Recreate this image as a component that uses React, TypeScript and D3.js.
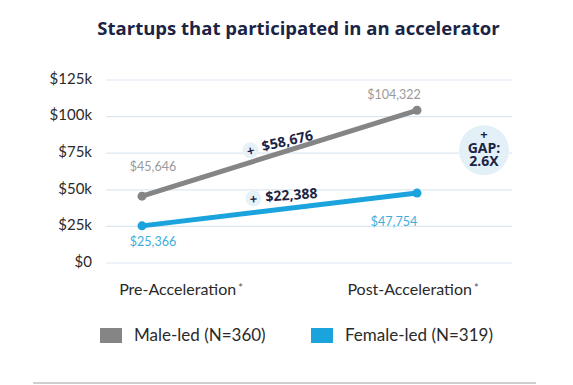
/** Startups that participated in an accelerator — pre/post funding slope chart. */

import * as d3 from "d3";

const periods = ["Pre-Acceleration", "Post-Acceleration"];
const maleValues = [45646, 104322];
const femaleValues = [25366, 47754];
const maleLabels = ["$45,646", "$104,322"];
const femaleLabels = ["$25,366", "$47,754"];
const yTickValues = [0, 25000, 50000, 75000, 100000, 125000];
const yTickLabels = ["$0", "$25k", "$50k", "$75k", "$100k", "$125k"];
const gainLabels = ["$58,676", "$22,388"];
const gapLines = ["+", "GAP:", "2.6X"];
const legendLabels = ["Male-led (N=360)", "Female-led (N=319)"];

const W = 573;
const H = 385;
const NAVY = "#1b2444";
const GRAY = "#858585";
const BLUE = "#1aa3dc";

export default function App() {
  const x = d3.scalePoint<string>().domain(periods).range([142, 417]);
  const y = d3.scaleLinear().domain([0, 125000]).range([263, 80]);

  const line = d3
    .line<number>()
    .x((_, i) => x(periods[i]) ?? 0)
    .y((d) => y(d));

  const series = [
    { values: maleValues, color: GRAY },
    { values: femaleValues, color: BLUE },
  ];

  const x0 = x(periods[0]) ?? 0;
  const x1 = x(periods[1]) ?? 0;
  const midX = (x0 + x1) / 2;
  const maleMidY = (y(maleValues[0]) + y(maleValues[1])) / 2;
  const femaleMidY = (y(femaleValues[0]) + y(femaleValues[1])) / 2;

  return (
    <svg
      width={W}
      height={H}
      style={{ position: "absolute", left: 0, top: 0, background: "#fff" }}
      fontFamily="Lato, 'Open Sans', sans-serif"
    >
      {/* Title */}
      <text
        x={W / 2 + 12}
        y={35}
        textAnchor="middle"
        fontFamily="'Open Sans', sans-serif"
        fontWeight={700}
        fontSize={18.5}
        fill={NAVY}
      >
        Startups that participated in an accelerator
      </text>

      {/* Grid + y labels */}
      {yTickValues.map((t, i) => (
        <g key={t}>
          <line x1={106} x2={512} y1={y(t)} y2={y(t)} stroke="#dbe8f1" strokeWidth={1.2} />
          <text
            x={92}
            y={y(t)}
            textAnchor="end"
            dominantBaseline="middle"
            fontSize={15}
            fill="#2a2a2a"
          >
            {yTickLabels[i]}
          </text>
        </g>
      ))}

      {/* Lines */}
      {series.map((s, si) => (
        <g key={si}>
          <path d={line(s.values) ?? ""} fill="none" stroke={s.color} strokeWidth={5} strokeLinecap="round" />
          {s.values.map((v, i) => (
            <circle key={i} cx={x(periods[i])} cy={y(v)} r={4.5} fill={s.color} />
          ))}
        </g>
      ))}

      {/* Value labels */}
      {maleValues.map((v, i) => (
        <text
          key={"m" + i}
          x={(x(periods[i]) ?? 0) + (i === 0 ? 11 : -23)}
          y={y(v) - (i === 0 ? 25 : 11)}
          textAnchor="middle"
          fontSize={12.5}
          fill="#9a9a9a"
        >
          {maleLabels[i]}
        </text>
      ))}
      {femaleValues.map((v, i) => (
        <text
          key={"f" + i}
          x={(x(periods[i]) ?? 0) + (i === 0 ? 11 : -23)}
          y={y(v) + (i === 0 ? 20 : 33)}
          textAnchor="middle"
          fontSize={12.5}
          fill="#3eaed8"
        >
          {femaleLabels[i]}
        </text>
      ))}

      {/* Gain annotations */}
      {[
        { cx: midX - 29, cy: maleMidY - 3, rot: -13, label: gainLabels[0] },
        { cx: midX - 26, cy: femaleMidY - 11, rot: -4, label: gainLabels[1] },
      ].map((a, i) => (
        <g key={i} transform={`translate(${a.cx},${a.cy}) rotate(${a.rot})`}>
          <circle r={8} fill="#e7f1f8" />
          <text textAnchor="middle" dominantBaseline="central" fontSize={13} fontWeight={700} fill={NAVY}>
            +
          </text>
          <text x={12} y={4} fontSize={14} fontWeight={700} fill={NAVY} fontFamily="'Open Sans', sans-serif">
            {a.label}
          </text>
        </g>
      ))}

      {/* Gap bubble */}
      <g transform={`translate(${x1 + 67},${y(77000)})`}>
        <circle r={25} fill="#e4f0f8" />
        <text
          textAnchor="middle"
          fontSize={14}
          fontWeight={700}
          fill={NAVY}
          fontFamily="'Open Sans', sans-serif"
        >
          {gapLines.map((t, i) => (
            <tspan key={t} x={0} y={-11 + i * 13.5} fontSize={i === 0 ? 13 : 14}>
              {t}
            </tspan>
          ))}
        </text>
      </g>

      {/* X labels */}
      {periods.map((p, i) => (
        <text
          key={p}
          x={(x(p) ?? 0) + (i === 0 ? 39 : -4)}
          y={295}
          textAnchor="middle"
          fontSize={16}
          fill="#2a2a2a"
        >
          {p}
          <tspan fontSize={11} dx={2} dy={-3} fill="#555">*</tspan>
        </text>
      ))}

      {/* Legend */}
      {legendLabels.map((l, i) => {
        const lx = i === 0 ? 100 : 311;
        return (
          <g key={l} transform={`translate(${lx},328)`}>
            <rect width={22} height={15} fill={i === 0 ? GRAY : BLUE} />
            <text x={34} y={13} fontSize={17} fill="#2a2a2a">
              {l}
            </text>
          </g>
        );
      })}

      {/* Bottom rule */}
      <line x1={33} x2={536} y1={383} y2={383} stroke="#cfcfcf" strokeWidth={2} />
    </svg>
  );
}
